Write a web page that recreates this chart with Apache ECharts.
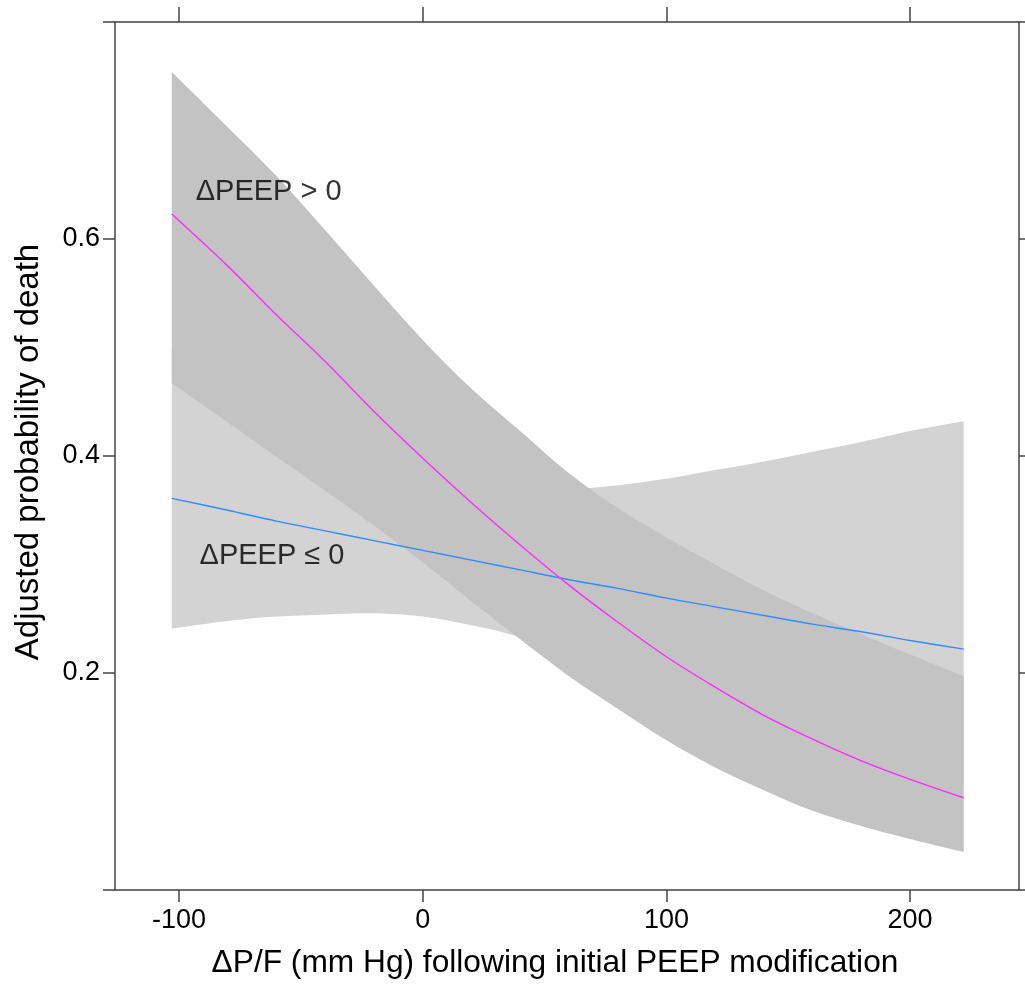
<!DOCTYPE html>
<html>
<head>
<meta charset="utf-8">
<script src="https://cdn.jsdelivr.net/npm/echarts@6/dist/echarts.min.js"></script>
<style>
html,body{margin:0;padding:0;background:#fff;}
#chart{width:1025px;height:984px;}
</style>
</head>
<body>
<div id="chart"></div>
<script>
// x values (ΔP/F, mm Hg)
const xs = [-103, -80, -60, -40, -20, 0, 20, 40, 60, 80, 100, 120, 140, 160, 180, 200, 222];
// ΔPEEP > 0 : fit and confidence band
const posFit = [0.623, 0.575, 0.530, 0.487, 0.441, 0.398, 0.357, 0.318, 0.281, 0.247, 0.215, 0.187, 0.161, 0.139, 0.119, 0.102, 0.085];
const posLo  = [0.467, 0.431, 0.399, 0.368, 0.336, 0.302, 0.266, 0.231, 0.197, 0.167, 0.138, 0.113, 0.092, 0.073, 0.059, 0.047, 0.035];
const posHi  = [0.754, 0.703, 0.658, 0.608, 0.557, 0.507, 0.462, 0.423, 0.384, 0.352, 0.325, 0.300, 0.276, 0.255, 0.236, 0.217, 0.197];
// ΔPEEP ≤ 0 : fit and confidence band
const negFit = [0.361, 0.350, 0.340, 0.331, 0.322, 0.313, 0.304, 0.295, 0.286, 0.278, 0.269, 0.261, 0.253, 0.245, 0.238, 0.230, 0.222];
const negLo  = [0.241, 0.248, 0.252, 0.254, 0.255, 0.252, 0.244, 0.233, 0.216, 0.199, 0.182, 0.165, 0.150, 0.135, 0.121, 0.109, 0.097];
const negHi  = [0.501, 0.465, 0.438, 0.412, 0.393, 0.378, 0.370, 0.367, 0.369, 0.373, 0.379, 0.387, 0.395, 0.404, 0.413, 0.423, 0.432];
// axis ticks
const xTicks = [-100, 0, 100, 200];
const yTicks = [0, 0.2, 0.4, 0.6, 0.8];
const yLabels = [0.2, 0.4, 0.6];
// annotations: [x, y, text]
const annotations = [[-93.4, 0.643, 'ΔPEEP > 0'], [-91.8, 0.308, 'ΔPEEP ≤ 0']];

const FONT = 'Liberation Sans, Arial, Helvetica, sans-serif';
const AXC = '#444';

// Catmull-Rom smoothed path through pixel points (mapped by api.coord)
function smoothSeg(pts, start) {
  let d = (start ? 'M' : 'L') + pts[0][0] + ' ' + pts[0][1];
  for (let i = 0; i < pts.length - 1; i++) {
    const p0 = pts[Math.max(i - 1, 0)], p1 = pts[i], p2 = pts[i + 1], p3 = pts[Math.min(i + 2, pts.length - 1)];
    const c1x = p1[0] + (p2[0] - p0[0]) / 6, c1y = p1[1] + (p2[1] - p0[1]) / 6;
    const c2x = p2[0] - (p3[0] - p1[0]) / 6, c2y = p2[1] - (p3[1] - p1[1]) / 6;
    d += ' C' + c1x + ' ' + c1y + ' ' + c2x + ' ' + c2y + ' ' + p2[0] + ' ' + p2[1];
  }
  return d;
}

function bandSeries(lo, hi, color) {
  return {
    type: 'custom',
    data: xs.map((x, i) => [x, lo[i], hi[i]]),
    encode: { x: 0, y: [1, 2] },
    silent: true,
    renderItem: function (params, api) {
      if (params.dataIndex !== 0) return null;
      const up = [], dn = [];
      for (let i = 0; i < xs.length; i++) up.push(api.coord([xs[i], hi[i]]));
      for (let i = xs.length - 1; i >= 0; i--) dn.push(api.coord([xs[i], lo[i]]));
      const d = smoothSeg(up, true) + ' ' + smoothSeg(dn, false) + ' Z';
      return { type: 'path', shape: { pathData: d }, style: { fill: color, stroke: null } };
    }
  };
}

function lineSeries(vals, color) {
  return {
    type: 'line',
    data: xs.map((x, i) => [x, vals[i]]),
    symbol: 'none',
    smooth: 0.3,
    silent: true,
    lineStyle: { color: color, width: 1.4 }
  };
}

const xBase = {
  type: 'value', min: -126.3, max: 244.7,
  axisLine: { show: true, onZero: false, lineStyle: { color: AXC, width: 1.5 } },
  splitLine: { show: false }
};
const yBase = {
  type: 'value', min: 0, max: 0.8,
  axisLine: { show: true, onZero: false, lineStyle: { color: AXC, width: 1.5 } },
  splitLine: { show: false }
};

const option = {
  animation: false,
  backgroundColor: '#fff',
  grid: { left: 115, right: 6, top: 22, bottom: 91, containLabel: false },
  xAxis: [
    Object.assign({}, xBase, {
      position: 'bottom',
      axisTick: { show: true, inside: false, length: 12, customValues: xTicks, lineStyle: { color: AXC, width: 1.5 } },
      axisLabel: { show: true, customValues: xTicks, margin: 17, fontSize: 27, color: '#000', fontFamily: FONT },
      name: 'ΔP/F (mm Hg) following initial PEEP modification',
      nameLocation: 'middle', nameGap: 57,
      nameTextStyle: { fontSize: 31.7, color: '#000', fontFamily: FONT, padding: [0, 24, 0, 0] }
    }),
    Object.assign({}, xBase, {
      position: 'top',
      axisTick: { show: true, inside: false, length: 15, customValues: xTicks, lineStyle: { color: AXC, width: 1.5 } },
      axisLabel: { show: false }
    })
  ],
  yAxis: [
    Object.assign({}, yBase, {
      position: 'left',
      axisTick: { show: true, inside: false, length: 12, customValues: yTicks, lineStyle: { color: AXC, width: 1.5 } },
      axisLabel: { show: true, customValues: yLabels, margin: 15, fontSize: 27, color: '#000', fontFamily: FONT },
      name: 'Adjusted probability of death',
      nameLocation: 'middle', nameGap: 70,
      nameTextStyle: { fontSize: 33, color: '#000', fontFamily: FONT, padding: [0, 0, 0, 8] }
    }),
    Object.assign({}, yBase, {
      position: 'right',
      axisTick: { show: true, inside: false, length: 12, customValues: yTicks, lineStyle: { color: AXC, width: 1.5 } },
      axisLabel: { show: false }
    })
  ],
  series: [
    bandSeries(negLo, negHi, '#d3d3d3'),
    bandSeries(posLo, posHi, '#c3c3c3'),
    lineSeries(negFit, '#2f8cff'),
    lineSeries(posFit, '#ff2bff'),
    {
      type: 'scatter',
      data: annotations,
      symbolSize: 1,
      silent: true,
      itemStyle: { color: 'rgba(0,0,0,0)' },
      label: {
        show: true, position: 'right', distance: 0,
        formatter: p => p.data[2],
        fontSize: 29, color: '#000', fontFamily: FONT
      }
    }
  ]
};

const chart = echarts.init(document.getElementById('chart'), null, { renderer: 'canvas' });
chart.setOption(option);
</script>
</body>
</html>
